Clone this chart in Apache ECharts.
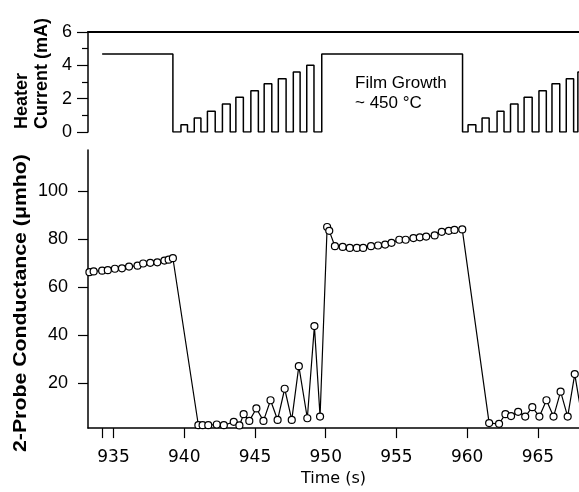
<!DOCTYPE html>
<html>
<head>
<meta charset="utf-8">
<script src="https://cdn.jsdelivr.net/npm/echarts@6/dist/echarts.min.js"></script>
<style>
  html, body { margin: 0; padding: 0; background: #fff; }
  #chart { width: 579px; height: 492px; }
</style>
</head>
<body>
<div id="chart"></div>
<script>
// heater current: edge times (s) and the level that starts at each edge (mA)
const heaterTime = [934.2, 939.2, 939.77, 940.23, 940.71, 941.18, 941.64, 942.19, 942.70, 943.25,
  943.65, 944.18, 944.71, 945.24, 945.65, 946.19, 946.65, 947.20, 947.71, 948.19,
  948.66, 949.17, 949.72, 959.67, 960.06, 960.61, 961.05, 961.55, 962.11, 962.60,
  963.06, 963.59, 964.02, 964.59, 965.07, 965.59, 965.99, 966.54, 967.00, 967.52,
  967.82, 968.3];
const heaterCurrent = [4.68, 0, 0.44, 0, 0.84, 0, 1.24, 0, 1.68, 0,
  2.08, 0, 2.48, 0, 2.9, 0, 3.2, 0, 3.6, 0,
  4.0, 0, 4.68, 0, 0.44, 0, 0.84, 0, 1.24, 0,
  1.68, 0, 2.08, 0, 2.48, 0, 2.9, 0, 3.2, 0,
  3.6, 3.6];

// 2-probe conductance (umho)
const condTime = [933.3, 933.6, 934.2, 934.6, 935.1, 935.6, 936.1, 936.7, 937.1, 937.6,
  938.1, 938.6, 938.9, 939.2,
  941.0, 941.3, 941.7, 942.3, 942.8, 943.5, 943.9, 944.2, 944.6, 945.1,
  945.6, 946.1, 946.6, 947.1, 947.6, 948.1, 948.7, 949.2, 949.6,
  950.1, 950.25, 950.65, 951.2, 951.7, 952.2, 952.65, 953.2, 953.7, 954.2,
  954.65, 955.2, 955.65, 956.2, 956.65, 957.1, 957.7, 958.2, 958.7, 959.1, 959.65,
  961.55, 962.25, 962.7, 963.1, 963.6, 964.1, 964.6, 965.1, 965.6, 966.1,
  966.6, 967.1, 967.6, 968.1];
const condValue = [66.2, 66.5, 66.8, 67.0, 67.6, 67.8, 68.5, 68.9, 69.8, 70.1,
  70.3, 71.0, 71.4, 72.0,
  2.4, 2.4, 2.4, 2.7, 2.4, 3.8, 2.3, 7.0, 4.2, 9.4,
  4.2, 12.8, 4.6, 17.6, 4.6, 27.0, 5.3, 43.7, 6.0,
  85.0, 83.4, 77.0, 76.7, 76.3, 76.3, 76.3, 77.0, 77.3, 77.7,
  78.4, 79.7, 79.7, 80.4, 80.7, 81.0, 81.5, 83.0, 83.4, 83.8, 84.0,
  3.3, 3.0, 7.0, 6.2, 8.0, 6.0, 9.9, 6.0, 12.8, 6.0,
  16.4, 6.0, 23.7, 6.0];

const timeTicks = [934.2, 935, 940, 945, 950, 955, 960, 965];
const timeLabels = [935, 940, 945, 950, 955, 960, 965];
const condTicks = [20, 40, 60, 80, 100];

const heaterData = heaterTime.map((t, i) => [t, heaterCurrent[i]]);
const condData = condTime.map((t, i) => [t, condValue[i]]);

const black = '#000';
const sans = '"Liberation Sans", Arial, sans-serif';
const dejavu = '"DejaVu Sans", sans-serif';

const myChart = echarts.init(document.getElementById('chart'), null, { renderer: 'canvas' });

const option = {
  animation: false,
  backgroundColor: '#fff',
  grid: [
    { left: 88, top: 32, width: 491, height: 100 },
    { left: 88, top: 150, width: 491, height: 284 }
  ],
  xAxis: [
    {
      gridIndex: 0,
      type: 'value',
      position: 'top',
      min: 933.2,
      max: 967.9,
      axisLine: { show: true, onZero: false, lineStyle: { color: black, width: 2 } },
      axisTick: { show: false },
      axisLabel: { show: false },
      splitLine: { show: false }
    },
    {
      gridIndex: 1,
      type: 'value',
      min: 933.2,
      max: 967.9,
      name: 'Time (s)',
      nameLocation: 'middle',
      nameGap: 40,
      nameTextStyle: { color: black, fontSize: 16, fontFamily: dejavu },
      axisLine: { show: true, onZero: false, lineStyle: { color: black, width: 1.5 } },
      axisTick: { show: true, length: 10, customValues: timeTicks, lineStyle: { color: black, width: 1.2 } },
      axisLabel: { customValues: timeLabels, color: black, fontSize: 17, fontFamily: dejavu, margin: 21 },
      splitLine: { show: false }
    }
  ],
  yAxis: [
    {
      gridIndex: 0,
      type: 'value',
      min: 0,
      max: 6,
      interval: 2,
      axisLine: { show: true, onZero: false, lineStyle: { color: black, width: 1.5 } },
      axisTick: { show: true, length: 11, lineStyle: { color: black, width: 1.2 } },
      minorTick: { show: true, splitNumber: 2, length: 6, lineStyle: { color: black, width: 1.2 } },
      axisLabel: { color: black, fontSize: 18, fontFamily: sans, margin: 16 },
      splitLine: { show: false }
    },
    {
      gridIndex: 1,
      type: 'value',
      min: 1.2,
      max: 117.1,
      axisLine: { show: true, onZero: false, lineStyle: { color: black, width: 1.5 } },
      axisTick: { show: true, length: 10, customValues: condTicks, lineStyle: { color: black, width: 1.2 } },
      axisLabel: { customValues: condTicks, color: black, fontSize: 18, fontFamily: sans, margin: 20 },
      splitLine: { show: false }
    }
  ],
  graphic: [
    {
      type: 'text', x: 22, y: 129, rotation: Math.PI / 2,
      style: { text: 'Heater', font: 'bold 18px ' + sans, fill: black, align: 'left', verticalAlign: 'middle' }
    },
    {
      type: 'text', x: 42, y: 129, rotation: Math.PI / 2,
      style: { text: 'Current (mA)', font: 'bold 18px ' + sans, fill: black, align: 'left', verticalAlign: 'middle' }
    },
    {
      type: 'text', x: 21, y: 452, rotation: Math.PI / 2, scaleX: 1.12,
      style: { text: '2-Probe Conductance (μmho)', font: 'bold 19px ' + sans, fill: black, align: 'left', verticalAlign: 'middle' }
    },
    {
      type: 'text', x: 355, y: 83,
      style: { text: 'Film Growth', font: '17px ' + sans, fill: black, align: 'left', verticalAlign: 'middle' }
    },
    {
      type: 'text', x: 355, y: 103,
      style: { text: '~ 450 °C', font: '17px ' + sans, fill: black, align: 'left', verticalAlign: 'middle' }
    }
  ],
  series: [
    {
      name: 'Heater Current',
      type: 'line',
      xAxisIndex: 0,
      yAxisIndex: 0,
      step: 'end',
      symbol: 'none',
      lineStyle: { color: black, width: 1.5 },
      data: heaterData
    },
    {
      name: 'Conductance',
      type: 'line',
      xAxisIndex: 1,
      yAxisIndex: 1,
      symbol: 'circle',
      symbolSize: 7,
      showAllSymbol: true,
      itemStyle: { color: '#fff', borderColor: black, borderWidth: 1.2 },
      lineStyle: { color: black, width: 1.2 },
      data: condData
    }
  ]
};

myChart.setOption(option);
</script>
</body>
</html>
